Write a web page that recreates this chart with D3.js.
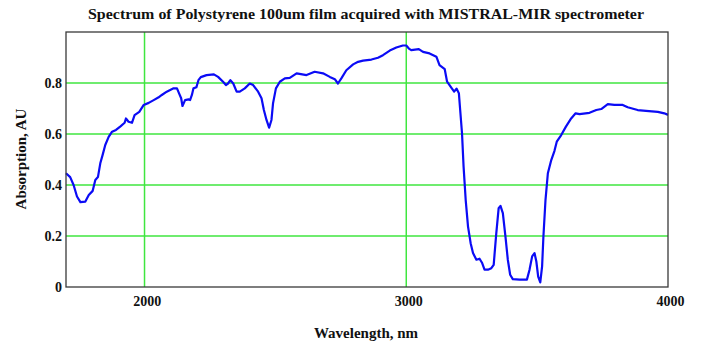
<!DOCTYPE html>
<html>
<head>
<meta charset="utf-8">
<script src="https://cdn.jsdelivr.net/npm/d3@7"></script>
<style>
  html, body { margin: 0; padding: 0; background: #fff; }
  svg { display: block; }
</style>
</head>
<body>
<svg id="chart" width="705" height="345"></svg>
<script>
// Wavelength (nm) and absorbance (AU) of the polystyrene film spectrum
const wavelength = [
  1700, 1716, 1729, 1742, 1755, 1774, 1787, 1802, 1812, 1822,
  1831, 1840, 1850, 1863, 1876, 1891, 1907, 1924, 1929, 1939,
  1952, 1962, 1980, 1997, 2016, 2035, 2054, 2066, 2085, 2111,
  2124, 2132, 2140, 2145, 2155, 2168, 2174, 2181, 2187, 2198,
  2206, 2215, 2237, 2265, 2281, 2300, 2311, 2319, 2328, 2339,
  2352, 2364, 2383, 2402, 2415, 2434, 2447, 2456, 2466, 2476,
  2485, 2491, 2502, 2517, 2536, 2555, 2581, 2619, 2650, 2682,
  2708, 2727, 2739, 2752, 2771, 2797, 2816, 2835, 2867, 2892,
  2911, 2937, 2962, 2987, 3000, 3010, 3019, 3048, 3064, 3089,
  3115, 3127, 3147, 3156, 3172, 3183, 3192, 3201, 3206, 3213,
  3219, 3227, 3236, 3246, 3255, 3268, 3280, 3290, 3299, 3312,
  3325, 3334, 3344, 3353, 3360, 3369, 3379, 3388, 3397, 3407,
  3433, 3461, 3471, 3481, 3490, 3497, 3504, 3512, 3519, 3524,
  3532, 3541, 3554, 3566, 3575, 3592, 3610, 3630, 3647, 3662,
  3700, 3726, 3745, 3770, 3795, 3827, 3846, 3884, 3916, 3961,
  3986, 4000
];
const absorption = [
  0.446, 0.431, 0.400, 0.355, 0.333, 0.335, 0.361, 0.377, 0.420, 0.431,
  0.485, 0.518, 0.557, 0.589, 0.609, 0.616, 0.629, 0.644, 0.661, 0.648,
  0.644, 0.674, 0.687, 0.714, 0.722, 0.733, 0.744, 0.753, 0.766, 0.779,
  0.779, 0.759, 0.740, 0.710, 0.733, 0.736, 0.733, 0.753, 0.779, 0.783,
  0.811, 0.823, 0.831, 0.834, 0.824, 0.805, 0.792, 0.798, 0.811, 0.798,
  0.766, 0.766, 0.779, 0.798, 0.792, 0.766, 0.740, 0.694, 0.655, 0.625,
  0.655, 0.720, 0.779, 0.805, 0.818, 0.820, 0.838, 0.831, 0.844, 0.838,
  0.824, 0.815, 0.798, 0.818, 0.850, 0.873, 0.883, 0.888, 0.892, 0.899,
  0.909, 0.927, 0.939, 0.947, 0.947, 0.935, 0.929, 0.933, 0.922, 0.916,
  0.903, 0.870, 0.854, 0.805, 0.782, 0.766, 0.778, 0.760, 0.694, 0.603,
  0.472, 0.342, 0.237, 0.172, 0.133, 0.107, 0.111, 0.094, 0.068, 0.068,
  0.074, 0.087, 0.211, 0.309, 0.318, 0.290, 0.198, 0.107, 0.048, 0.031,
  0.029, 0.029, 0.068, 0.120, 0.133, 0.100, 0.041, 0.018, 0.081, 0.198,
  0.342, 0.446, 0.498, 0.533, 0.570, 0.596, 0.629, 0.661, 0.681, 0.678,
  0.683, 0.694, 0.698, 0.717, 0.714, 0.714, 0.705, 0.694, 0.691, 0.687,
  0.681, 0.675
];

const xTicks = [2000, 3000, 4000];
const yTicks = [0, 0.2, 0.4, 0.6, 0.8];
const xGrid = [2000, 3000];
const yGrid = [0.2, 0.4, 0.6, 0.8];

const titleText = "Spectrum of Polystyrene 100um film acquired with MISTRAL-MIR spectrometer";
const xTitle = "Wavelength, nm";
const yTitle = "Absorption, AU";

const serif = "Liberation Serif, Times New Roman, serif";
const svg = d3.select("#chart");
const m = { left: 66, right: 668, top: 32, bottom: 287 };

const x = d3.scaleLinear().domain([1700, 4000]).range([m.left, m.right]);
const y = d3.scaleLinear().domain([0, 1]).range([m.bottom, m.top]);

// grid
const gridColor = "#3fe63f";
svg.append("g").selectAll("line").data(yGrid).join("line")
  .attr("x1", m.left).attr("x2", m.right)
  .attr("y1", d => y(d)).attr("y2", d => y(d))
  .attr("stroke", gridColor).attr("stroke-width", 1.5);
svg.append("g").selectAll("line").data(xGrid).join("line")
  .attr("y1", m.top).attr("y2", m.bottom)
  .attr("x1", d => x(d)).attr("x2", d => x(d))
  .attr("stroke", gridColor).attr("stroke-width", 1.5);

// spectrum trace
const pts = wavelength.map((w, i) => [w, absorption[i]]);
svg.append("path")
  .datum(pts)
  .attr("fill", "none")
  .attr("stroke", "#0b0bf5")
  .attr("stroke-width", 2.2)
  .attr("stroke-linejoin", "round")
  .attr("d", d3.line().x(d => x(d[0])).y(d => y(d[1])));

// frame
svg.append("rect")
  .attr("x", m.left).attr("y", m.top)
  .attr("width", m.right - m.left).attr("height", m.bottom - m.top)
  .attr("fill", "none").attr("stroke", "#3a3a3a").attr("stroke-width", 1.3);

// axes
const xAxis = svg.append("g")
  .attr("transform", `translate(0,${m.bottom})`)
  .call(d3.axisBottom(x).tickValues(xTicks).tickSize(0).tickPadding(9).tickFormat(d3.format("d")));
xAxis.select(".domain").remove();

const yAxis = svg.append("g")
  .attr("transform", `translate(${m.left},0)`)
  .call(d3.axisLeft(y).tickValues(yTicks).tickSize(0).tickPadding(4).tickFormat(d => d === 0 ? "0" : d3.format(".1f")(d)));
yAxis.select(".domain").remove();

[xAxis, yAxis].forEach(g => g
  .attr("font-family", serif).attr("font-size", 14).attr("font-weight", "bold")
  .selectAll(".tick text").attr("fill", "#111"));
xAxis.selectAll(".tick text").attr("dx", "0.15em");

// titles
svg.append("text")
  .attr("x", 366).attr("y", 19)
  .attr("text-anchor", "middle")
  .attr("font-family", serif).attr("font-weight", "bold").attr("font-size", 15)
  .attr("textLength", 556).attr("lengthAdjust", "spacingAndGlyphs")
  .attr("fill", "#111")
  .text(titleText);

svg.append("text")
  .attr("x", 366).attr("y", 338)
  .attr("text-anchor", "middle")
  .attr("font-family", serif).attr("font-weight", "bold").attr("font-size", 15)
  .attr("fill", "#111")
  .text(xTitle);

svg.append("text")
  .attr("transform", "translate(26,159) rotate(-90)")
  .attr("text-anchor", "middle")
  .attr("font-family", serif).attr("font-weight", "bold").attr("font-size", 15)
  .attr("fill", "#111")
  .text(yTitle);
</script>
</body>
</html>
